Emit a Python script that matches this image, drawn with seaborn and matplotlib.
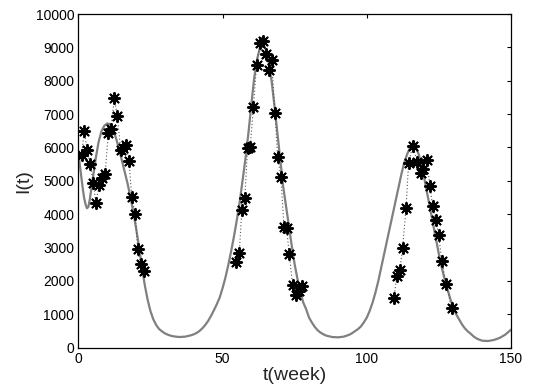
import matplotlib
matplotlib.use("Agg")
import matplotlib.pyplot as plt
import seaborn as sns
import pandas as pd

# Model curve
model_t = [0, 0.5, 1, 1.5, 2, 2.5, 3, 3.5, 4, 5, 6, 7, 8, 9, 10, 11, 12, 13, 14, 15,
           16, 17, 18, 19, 20, 21, 22, 23, 24, 25, 26, 27, 28, 29, 30, 31, 32, 33,
           35, 37, 39, 40, 41, 42, 43, 44, 45, 46, 47, 48, 49, 50, 51, 52, 53, 54,
           55, 56, 57, 58, 59, 60, 61, 62, 63, 64, 65, 66, 67, 68, 69, 70, 71, 72,
           73, 74, 75, 76, 77, 78, 79, 80, 81, 82, 83, 84, 85, 86, 88, 90, 92, 94,
           95, 96, 97, 98, 99, 100, 101, 102, 103, 104, 105, 106, 107, 108, 109,
           110, 111, 112, 113, 114, 115, 116, 117, 118, 119, 120, 121, 122, 123,
           124, 125, 126, 127, 128, 129, 130, 131, 132, 133, 134, 135, 136, 137,
           138, 139, 140, 142, 144, 146, 148, 150]
model_I = [5900, 5500, 5150, 4800, 4500, 4300, 4180, 4220, 4450, 5050, 5650, 6150,
           6480, 6650, 6720, 6700, 6550, 6300, 6000, 5650, 5300, 4950, 4550, 4100,
           3600, 3050, 2450, 1900, 1450, 1100, 850, 680, 560, 490, 430, 390, 360,
           340, 320, 330, 370, 400, 440, 500, 580, 680, 800, 950, 1120, 1300, 1500,
           1780, 2100, 2480, 2900, 3350, 3850, 4400, 5050, 5700, 6450, 7300, 8100,
           8650, 9000, 9100, 8950, 8550, 8000, 7250, 6450, 5650, 4850, 4250, 3650,
           3050, 2500, 2050, 1650, 1350, 1150, 900, 750, 620, 520, 450, 400, 360,
           320, 310, 330, 390, 440, 500, 560, 640, 760, 900, 1100, 1350, 1650, 2000,
           2400, 2800, 3200, 3600, 4000, 4400, 4800, 5200, 5550, 5800, 6000, 6080,
           6000, 5800, 5450, 5050, 4600, 4150, 3700, 3250, 2800, 2400, 2050, 1750,
           1450, 1200, 1000, 850, 700, 580, 490, 420, 340, 280, 240, 210, 200, 230,
           290, 390, 540]

# Observed data (three outbreaks)
obs1_t = [1.2, 2.0, 3.1, 4.1, 5.2, 6.1, 7.3, 8.3, 9.3, 10.4, 11.3, 12.5, 13.5,
          14.7, 15.6, 16.5, 17.6, 18.5, 19.7, 20.6, 21.6, 22.8]
obs1_I = [5780, 6480, 5930, 5500, 4950, 4350, 4880, 5080, 5210, 6430, 6550, 7475,
          6946, 5928, 5979, 6068, 5610, 4510, 4010, 2955, 2505, 2305]
obs2_t = [54.7, 55.8, 56.7, 57.7, 58.7, 59.6, 60.7, 61.8, 63.0, 63.9, 65.1, 66.0,
          67.0, 68.2, 69.1, 70.2, 71.3, 72.2, 73.1, 74.3, 75.5, 76.4, 77.4]
obs2_I = [2555, 2835, 4132, 4481, 5979, 6028, 7206, 8473, 9140, 9200, 8800, 8323,
          8623, 7026, 5709, 5129, 3632, 3593, 2814, 1886, 1587, 1686, 1856]
obs3_t = [109.4, 110.4, 111.5, 112.4, 113.6, 114.5, 115.9, 117.5, 118.7, 119.6,
          120.8, 121.9, 122.8, 123.9, 124.9, 126.0, 127.5, 129.4]
obs3_I = [1487, 2136, 2335, 2984, 4182, 5530, 6048, 5579, 5230, 5350, 5629, 4850,
          4251, 3812, 3383, 2605, 1906, 1188]

sns.set_style("white")
plt.rcParams['font.family'] = ['Liberation Sans', 'DejaVu Sans']

model = pd.DataFrame({"t": model_t, "I": model_I})
obs = pd.concat([
    pd.DataFrame({"t": obs1_t, "I": obs1_I, "wave": 1}),
    pd.DataFrame({"t": obs2_t, "I": obs2_I, "wave": 2}),
    pd.DataFrame({"t": obs3_t, "I": obs3_I, "wave": 3}),
], ignore_index=True)

fig = plt.figure(figsize=(5.37, 3.90), dpi=100)
ax = fig.add_axes([0.1458, 0.1085, 0.8058, 0.8555])

sns.lineplot(data=model, x="t", y="I", ax=ax, color="#808080", linewidth=1.6,
             estimator=None, sort=False)
sns.lineplot(data=obs, x="t", y="I", units="wave", estimator=None, sort=False,
             ax=ax, color="#555555", linewidth=0.8, linestyle=(0, (1, 2)))
sns.scatterplot(data=obs, x="t", y="I", ax=ax, marker=(8, 2, 0), s=65,
                color="black", edgecolor="black", linewidth=1.4, zorder=5)

ax.set_xlim(0, 150)
ax.set_ylim(0, 10000)
ax.set_xticks([0, 50, 100, 150])
ax.set_yticks(range(0, 10001, 1000))
ax.tick_params(direction="in", top=True, right=True, length=3, width=0.8,
               labelsize=10, colors="black", pad=3)
for s in ax.spines.values():
    s.set_color("black")
    s.set_linewidth(0.9)
ax.set_xlabel("t(week)", fontsize=14, labelpad=1)
ax.set_ylabel("I(t)", fontsize=14, labelpad=2)

fig.savefig("out.png", dpi=100)
